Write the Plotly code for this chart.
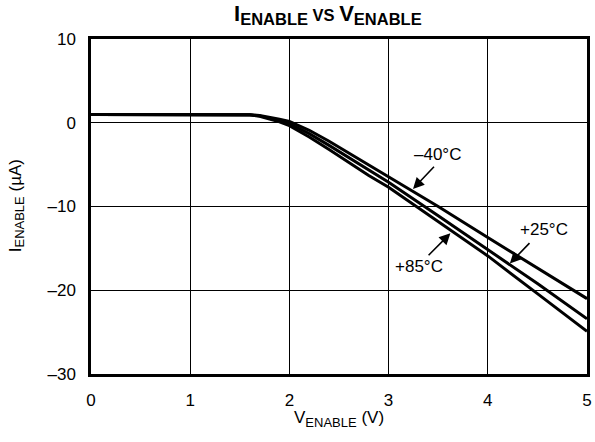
import plotly.graph_objects as go

v_enable = [0, 0.5, 1, 1.5, 1.6, 1.7, 1.8, 1.9, 2.0, 2.1, 2.2, 2.4, 2.6, 2.8, 3.0, 3.5, 4.0, 4.5, 5.0]
i_m40 = [1, 1, 1, 1, 0.96, 0.86, 0.67, 0.42, 0.15, -0.35, -0.9, -2.2, -3.6, -5.0, -6.4, -10.0, -13.7, -17.4, -21.0]
i_p25 = [1, 1, 1, 1, 0.96, 0.82, 0.57, 0.25, -0.1, -0.7, -1.3, -2.7, -4.2, -5.7, -7.1, -11.1, -15.1, -19.2, -23.4]
i_p85 = [1, 1, 1, 1, 0.94, 0.77, 0.47, 0.1, -0.35, -1.0, -1.7, -3.2, -4.8, -6.3, -7.7, -11.8, -15.9, -20.4, -24.9]

x_ticks = [0, 1, 2, 3, 4, 5]
y_ticks = [-30, -20, -10, 0, 10]
y_ticktext = ["–30", "–20", "–10", "0", "10"]

labels = ["–40°C", "+25°C", "+85°C"]
label_pos = [(3.489, -3.77), (4.566, -12.7), (3.303, -17.2)]
arrow_tail = [(3.472, -5.08), (4.435, -14.2), (3.388, -16.0)]
arrow_head = [(3.246, -7.9), (4.222, -16.8), (3.623, -13.2)]

FONT = "Liberation Sans, Arial, Helvetica, sans-serif"

fig = go.Figure()
for ys in (i_m40, i_p25, i_p85):
    fig.add_trace(go.Scatter(x=v_enable, y=ys, mode="lines",
                             line=dict(color="black", width=3),
                             showlegend=False, hoverinfo="skip"))

annotations = []
for t, p in zip(labels, label_pos):
    annotations.append(dict(x=p[0], y=p[1], xref="x", yref="y", text=t, showarrow=False,
                            font=dict(family=FONT, size=17, color="black")))
for tail, head in zip(arrow_tail, arrow_head):
    annotations.append(dict(x=head[0], y=head[1], xref="x", yref="y", ax=tail[0], ay=tail[1],
                            axref="x", ayref="y", text="", showarrow=True, arrowhead=2, arrowsize=1.4,
                            arrowwidth=1.6, arrowcolor="black"))

# axis titles
annotations.append(dict(x=0.501, y=-0.134, xref="paper", yref="paper", xanchor="center", yanchor="middle",
                        text="V<sub><span style='font-size:13px'>ENABLE</span></sub> (V)", showarrow=False,
                        font=dict(family=FONT, size=17, color="black")))
annotations.append(dict(x=-0.149, y=0.501, xref="paper", yref="paper", xanchor="center", yanchor="middle",
                        textangle=-90,
                        text="I<sub><span style='font-size:13px'>ENABLE</span></sub> (µA)", showarrow=False,
                        font=dict(family=FONT, size=17, color="black")))

title_txt = ("<b>I<sub><span style='font-size:16.5px'>ENABLE</span></sub>"
             "<span style='font-size:16.5px'> VS </span>"
             "V<sub><span style='font-size:16.5px'>ENABLE</span></sub></b>")

fig.update_layout(
    width=595, height=442,
    margin=dict(l=91, r=8, t=39, b=68),
    paper_bgcolor="white", plot_bgcolor="white",
    font=dict(family=FONT, size=17, color="black"),
    title=dict(text=title_txt, x=0.551, xref="container", xanchor="center",
               yref="container", y=0.971, yanchor="middle",
               font=dict(family=FONT, size=22, color="black")),
    annotations=annotations,
    xaxis=dict(range=[0, 5], tickvals=x_ticks, showgrid=True, gridcolor="black", gridwidth=1,
               zeroline=False, showline=True, linecolor="black", linewidth=2.5, mirror=True,
               ticks="", tickfont=dict(size=17), automargin=False, ticklabelstandoff=9),
    yaxis=dict(range=[-30, 10], tickvals=y_ticks, ticktext=y_ticktext, showgrid=True, gridcolor="black",
               gridwidth=1, zeroline=False, showline=True, linecolor="black", linewidth=2.5, mirror=True,
               ticks="", tickfont=dict(size=17), automargin=False, ticklabelstandoff=9),
)

fig.write_html("out.html", config={"displayModeBar": False},
               post_script="document.body.style.margin='0';")
